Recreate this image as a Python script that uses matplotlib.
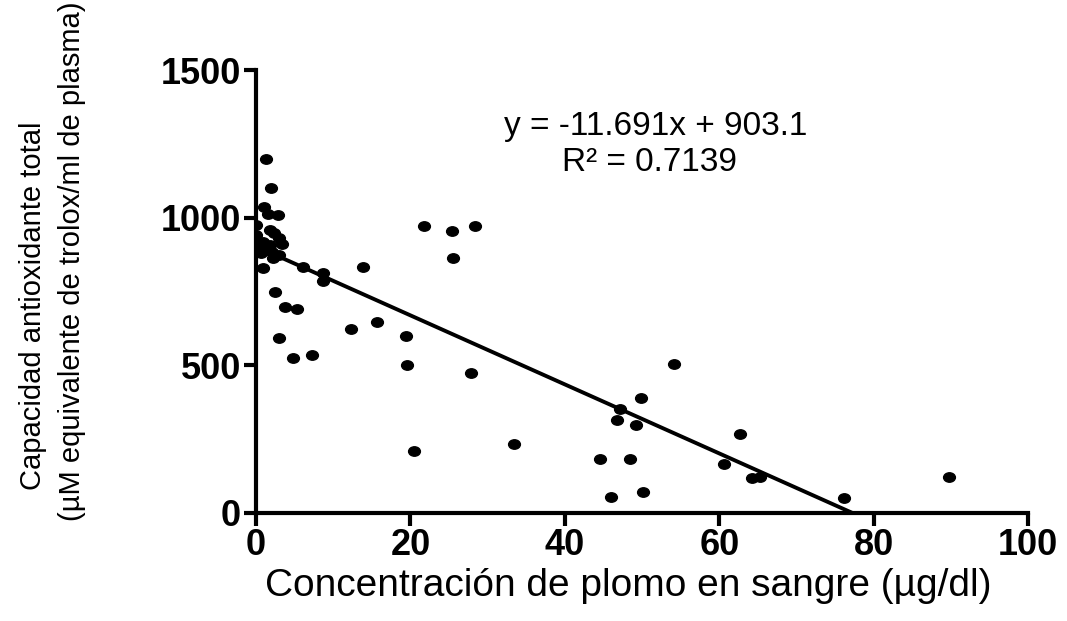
import matplotlib
matplotlib.use("Agg")
import matplotlib.pyplot as plt
from matplotlib.path import Path
from matplotlib.transforms import Affine2D

plt.rcParams.update({
    "font.family": "Liberation Sans",
    "axes.linewidth": 3,
})

# Blood lead (ug/dl) vs total antioxidant capacity
lead = [1.3, 1.9, 1.0, 1.6, 2.9, 0.0, 0.0, 1.8, 2.3, 3.0, 0.9, 0.2, 1.8, 3.3,
        2.0, 0.7, 3.0, 2.2, 0.9, 0.4, 1.1,
        6.1, 8.7, 8.7, 13.9, 2.5, 3.8, 5.3, 12.3, 15.6, 3.0, 4.8, 7.2,
        21.7, 25.4, 28.3, 25.5, 19.4, 19.6, 27.9, 20.4, 33.4,
        54.1, 49.9, 47.1, 46.7, 49.2, 44.5, 48.5, 46.0, 50.1,
        62.7, 60.6, 64.3, 65.3, 76.2, 89.7]
tac = [1200, 1100, 1037, 1012, 1009, 975, 941, 958, 947, 930, 919, 905, 907, 910,
       885, 880, 874, 862, 830, 891, 891,
       832, 812, 785, 834, 750, 697, 690, 623, 648, 592, 526, 534,
       973, 955, 973, 865, 598, 502, 473, 211, 234,
       506, 391, 351, 314, 298, 182, 182, 53, 72,
       269, 167, 120, 123, 50, 121]

slope, intercept = -11.691, 903.1
r2 = 0.7139
x_fit = [0, -intercept / slope]

fig = plt.figure(figsize=(10.67, 6.21), dpi=100)
ax = fig.add_axes([0.240, 0.174, 0.7235, 0.713])

# slightly wide dots, like the source
dot = Path.unit_circle().transformed(Affine2D().scale(1.25, 1.0))
ax.plot(lead, tac, linestyle="none", marker=dot, markersize=8.5, color="black")
ax.plot(x_fit, [slope * x + intercept for x in x_fit], color="black", lw=2.8)

ax.set_xlim(0, 100)
ax.set_ylim(0, 1500)
ax.set_xticks([0, 20, 40, 60, 80, 100])
ax.set_yticks([0, 500, 1000, 1500])
for s in ["top", "right"]:
    ax.spines[s].set_visible(False)
ax.tick_params(length=9, width=3, pad=2, labelsize=26)
for lbl in ax.get_xticklabels() + ax.get_yticklabels():
    lbl.set_fontweight("bold")

ax.set_xlabel("Concentración de plomo en sangre (µg/dl)", fontsize=28, labelpad=2)
ax.xaxis.set_label_coords(0.482, -0.125)
fig.text(33 / 1067, 1 - 306 / 621, "Capacidad antioxidante total",
         rotation=90, ha="center", va="center", fontsize=21)
fig.text(72 / 1067, 1 - 261 / 621, "(µM equivalente de trolox/ml de plasma)",
         rotation=90, ha="center", va="center", fontsize=21)

ax.text(51.8, 1308, f"y = {slope}x + {intercept}", ha="center", va="center", fontsize=24)
ax.text(51.0, 1188, f"R² = {r2}", ha="center", va="center", fontsize=24)

fig.savefig("out.png", dpi=100)
